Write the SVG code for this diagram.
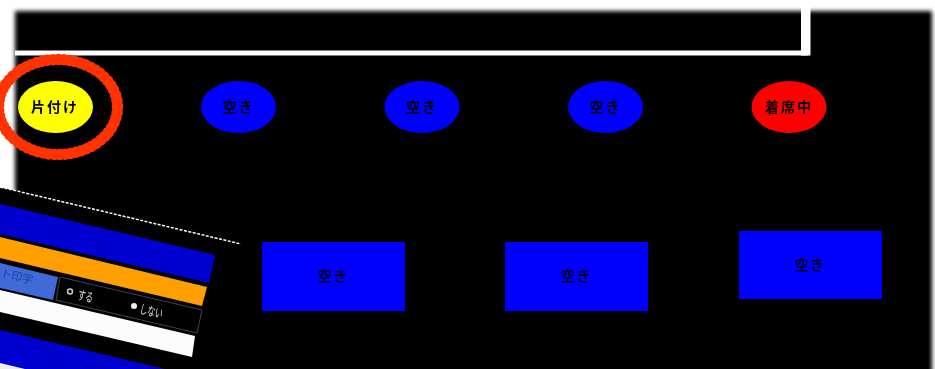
<svg xmlns="http://www.w3.org/2000/svg" width="935" height="369" viewBox="0 0 935 369">
<style>
.l{font-family:"Noto Sans CJK JP","Liberation Sans",sans-serif;font-size:14px;font-weight:700;fill:#000;text-anchor:middle;letter-spacing:2px}
.r{font-weight:700;fill:#000020;letter-spacing:1.500px}
.p{font-family:"Noto Sans CJK JP","Liberation Sans",sans-serif;font-size:12.500px;fill:#e4e4e4}
</style>
<defs>
<filter id="edge" x="-5%" y="-5%" width="110%" height="110%"><feGaussianBlur stdDeviation="2.200"/></filter>
<filter id="soft" x="-5%" y="-5%" width="110%" height="110%"><feGaussianBlur stdDeviation="0.600"/></filter>
</defs>
<rect width="935" height="369" fill="#fff"/>
<rect x="15" y="11" width="917" height="400" fill="#000" filter="url(#edge)"/>
<polygon points="0,187 24,192.700 24,369 0,369" fill="#000"/>
<path d="M15 53H805.700V0" fill="none" stroke="#fff" stroke-width="5"/>
<rect x="801" y="0" width="9.500" height="55.500" fill="#fff"/>
<g id="connectors"></g>
<g filter="url(#soft)">
<g id="ring"><ellipse cx="58" cy="107" rx="59.500" ry="47.500" fill="none" stroke="#ff3300" stroke-width="11.500" stroke-linecap="round" stroke-dasharray="0 5.500"/><ellipse cx="58" cy="107" rx="59.500" ry="47.500" fill="none" stroke="#ff3300" stroke-width="9"/></g>
<g id="n1"><ellipse cx="55.500" cy="107" rx="37.500" ry="26" fill="#ffff00"/><text class="l" x="55" y="112">片付け</text></g>
<g id="n2"><ellipse cx="238.500" cy="107" rx="37.500" ry="26" fill="#0000ff"/><text class="l" x="238.500" y="112">空き</text></g>
<g id="n3"><ellipse cx="422" cy="107" rx="37.500" ry="26" fill="#0000ff"/><text class="l" x="422" y="112">空き</text></g>
<g id="n4"><ellipse cx="605.500" cy="107" rx="37.500" ry="26" fill="#0000ff"/><text class="l" x="605.500" y="112">空き</text></g>
<g id="n5"><ellipse cx="789" cy="107" rx="37.500" ry="26" fill="#ff0000"/><text class="l" x="789" y="112">着席中</text></g>
<g id="n6"><rect x="262" y="242" width="143" height="69" fill="#0000ff"/><text class="l r" x="333" y="281">空き</text></g>
<g id="n7"><rect x="505" y="242" width="143" height="69" fill="#0000ff"/><text class="l r" x="576" y="281">空き</text></g>
<g id="n8"><rect x="739" y="231" width="143" height="68" fill="#0000ff"/><text class="l r" x="810" y="270">空き</text></g>
<g id="panel">
<line x1="0" y1="187" x2="241" y2="244" stroke="#fff" stroke-width="1.500" stroke-dasharray="3 1.500"/>
<polygon points="0,204 215,255 209,283 0,234" fill="#0000d0"/>
<polygon points="0,237 207,287 202,306 0,258" fill="#ffa000"/>
<polygon points="0,263 58,277 53,300 0,288" fill="#3f6ad8"/>
<polygon points="60,277 202,310 197,333 56,300" fill="#000" stroke="#444" stroke-width="1"/>
<polygon points="0,290 195,336 192,357 0,312" fill="#fcfcfc"/>
<polygon points="0,330 165,369 0,369" fill="#0000d0"/>
<polygon points="0,363 25,369 0,369" fill="#eee"/>
<circle cx="70" cy="291.500" r="2.500" fill="#000" stroke="#ccc" stroke-width="1.500"/>
<circle cx="134" cy="306" r="3" fill="#eee"/>
<text class="p" transform="translate(77,299) rotate(13.300) scale(.62,1)">する</text>
<text class="p" transform="translate(139,313) rotate(13.300) scale(.62,1)">しない</text>
<text class="p" style="fill:#1f3f9f;text-anchor:end;font-size:11px" transform="translate(32,284) rotate(13.300)">ート印字</text>
</g>
</g>
</svg>
